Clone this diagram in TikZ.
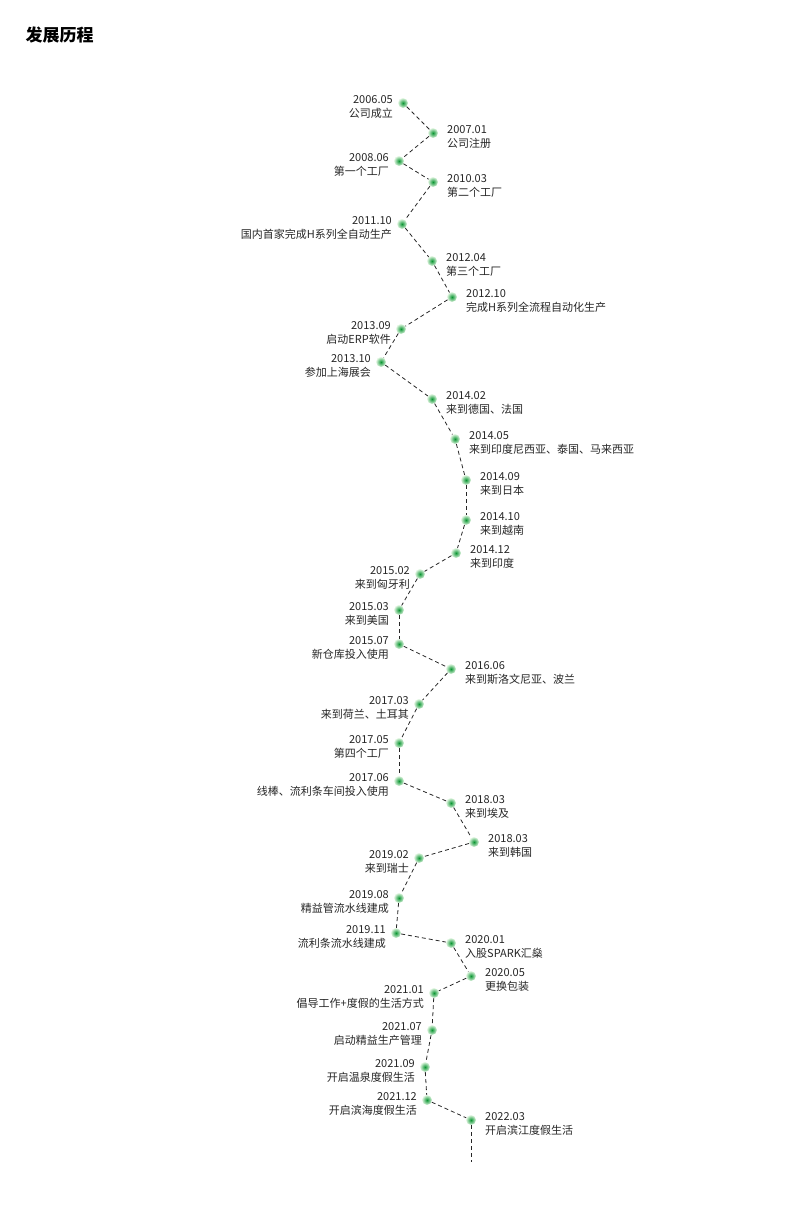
\documentclass[tikz,border=0pt]{standalone}
\usepackage{fontspec}
\setmainfont{Noto Sans CJK SC}
\newfontfamily\cjkb{Noto Sans CJK SC Bold}
\begin{document}
\begin{tikzpicture}[x=1pt,y=-1pt,
  dot/.style={circle,inner sep=0,minimum size=10pt,shading=radial,inner color={rgb,255:red,10;green,150;blue,50},outer color={rgb,255:red,225;green,245;blue,225}},
  lab/.style={font=\fontsize{11}{14.5}\selectfont,inner sep=0,text=black!85},
  link/.style={black!85,line width=0.8pt,dash pattern=on 4pt off 3pt}]
\useasboundingbox (0,0) rectangle (790,1218);
\node[anchor=west,font=\fontsize{17}{20}\selectfont\bfseries] (title) at (22,35) {发展历程};
\foreach \i/\x/\y/\s/\d/\t in {
1/403/103/l/2006.05/公司成立,
2/433/133/r/2007.01/公司注册,
3/399/161/l/2008.06/第一个工厂,
4/433/182/r/2010.03/第二个工厂,
5/402/224/l/2011.10/国内首家完成H系列全自动生产,
6/432/261/r/2012.04/第三个工厂,
7/452/297/r/2012.10/完成H系列全流程自动化生产,
8/401/329/l/2013.09/启动ERP软件,
9/381/362/l/2013.10/参加上海展会,
10/432/399/r/2014.02/来到德国、法国,
11/455/439/r/2014.05/来到印度尼西亚、泰国、马来西亚,
12/466/480/r/2014.09/来到日本,
13/466/520/r/2014.10/来到越南,
14/456/553/r/2014.12/来到印度,
15/420/574/l/2015.02/来到匈牙利,
16/399/610/l/2015.03/来到美国,
17/399/644/l/2015.07/新仓库投入使用,
18/451/669/r/2016.06/来到斯洛文尼亚、波兰,
19/419/704/l/2017.03/来到荷兰、土耳其,
20/399/743/l/2017.05/第四个工厂,
21/399/781/l/2017.06/线棒、流利条车间投入使用,
22/451/803/r/2018.03/来到埃及,
23/474/842/r/2018.03/来到韩国,
24/419/858/l/2019.02/来到瑞士,
25/399/898/l/2019.08/精益管流水线建成,
26/396/933/l/2019.11/流利条流水线建成,
27/451/943/r/2020.01/入股SPARK汇燊,
28/471/976/r/2020.05/更换包装,
29/434/993/l/2021.01/倡导工作+度假的生活方式,
30/432/1030/l/2021.07/启动精益生产管理,
31/425/1067/l/2021.09/开启温泉度假生活,
32/427/1100/l/2021.12/开启滨海度假生活,
33/471/1120/r/2022.03/开启滨江度假生活}{
  \node[dot] (d\i) at (\x,\y) {};
  \if l\s
    \node[lab,align=right,anchor=north east] (t\i) at (\x-10,\y-8) {\d\\\t};
  \else
    \node[lab,align=left,anchor=north west] (t\i) at (\x+14,\y-8) {\d\\\t};
  \fi
}
\coordinate (end) at (471,1162);
\foreach \a [evaluate=\a as \b using int(\a+1)] in {1,...,32}{
  \draw[link] (d\a) -- (d\b);
}
\draw[link] (d33) -- (end);
\end{tikzpicture}
\end{document}
